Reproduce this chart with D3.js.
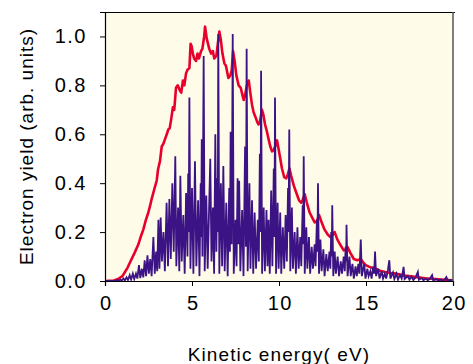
<!DOCTYPE html>
<html>
<head>
<meta charset="utf-8">
<script src="https://cdn.jsdelivr.net/npm/d3@7"></script>
<style>
  html, body { margin: 0; padding: 0; background: #ffffff; }
  svg { display: block; }
  text { font-family: Arial, "Liberation Sans", sans-serif; fill: #000; }
</style>
</head>
<body>
<div id="chart"></div>
<script>
// axis ticks
const xTicks = [0, 5, 10, 15, 20];
const yTicks = [0.0, 0.2, 0.4, 0.6, 0.8, 1.0];

// smoothed yield (red), [energy eV, yield]
const envelope = [
  [0, 0], [0.5, 0.002], [0.75, 0.008], [1.0, 0.02], [1.15, 0.037], [1.3, 0.055],
  [1.53, 0.09], [1.7, 0.115], [1.92, 0.15], [2.05, 0.18], [2.2, 0.21], [2.35, 0.25],
  [2.49, 0.28], [2.6, 0.31], [2.68, 0.335], [2.85, 0.38], [2.97, 0.41], [3.05, 0.457],
  [3.16, 0.49], [3.26, 0.55], [3.35, 0.56], [3.45, 0.58], [3.55, 0.6], [3.64, 0.62],
  [3.72, 0.625], [3.8, 0.66], [3.9, 0.71], [3.98, 0.70], [4.08, 0.79], [4.18, 0.80],
  [4.3, 0.78], [4.38, 0.77], [4.48, 0.82], [4.56, 0.80], [4.66, 0.85], [4.75, 0.865],
  [4.85, 0.87], [4.92, 0.97], [4.98, 0.96], [5.05, 0.93], [5.12, 0.91], [5.23, 0.90],
  [5.32, 0.93], [5.4, 0.91], [5.52, 0.94], [5.6, 0.95], [5.7, 1.0], [5.75, 1.04],
  [5.85, 0.99], [5.99, 0.95], [6.1, 0.93], [6.2, 0.94], [6.28, 0.91], [6.4, 0.92],
  [6.5, 0.98], [6.57, 1.02], [6.65, 0.99], [6.75, 0.93], [6.86, 0.89], [6.95, 0.88],
  [7.09, 0.83], [7.2, 0.84], [7.28, 0.86], [7.36, 0.94], [7.45, 0.9], [7.55, 0.84],
  [7.68, 0.80], [7.8, 0.79], [7.9, 0.76], [7.97, 0.74], [8.05, 0.76], [8.15, 0.8],
  [8.26, 0.82], [8.35, 0.77], [8.45, 0.72], [8.54, 0.69], [8.65, 0.67], [8.75, 0.65],
  [8.83, 0.64], [8.9, 0.65], [9.02, 0.70], [9.1, 0.68], [9.2, 0.64], [9.31, 0.61],
  [9.4, 0.58], [9.5, 0.55], [9.6, 0.53], [9.7, 0.535], [9.8, 0.555], [9.89, 0.575],
  [9.95, 0.55], [10.05, 0.51], [10.17, 0.46], [10.3, 0.425], [10.42, 0.42], [10.5, 0.435],
  [10.6, 0.46], [10.7, 0.43], [10.85, 0.39], [11.0, 0.36], [11.15, 0.33], [11.27, 0.32],
  [11.35, 0.33], [11.48, 0.355], [11.6, 0.32], [11.76, 0.28], [11.9, 0.26], [12.05, 0.24],
  [12.18, 0.245], [12.3, 0.27], [12.45, 0.24], [12.62, 0.21], [12.8, 0.19], [12.95, 0.18],
  [13.05, 0.185], [13.2, 0.20], [13.35, 0.17], [13.55, 0.145], [13.72, 0.125], [13.85, 0.13],
  [13.93, 0.14], [14.1, 0.115], [14.3, 0.09], [14.5, 0.085], [14.7, 0.09], [14.85, 0.075],
  [14.98, 0.065], [15.2, 0.058], [15.4, 0.052], [15.56, 0.05], [15.8, 0.042], [16.1, 0.037],
  [16.4, 0.033], [16.76, 0.03], [17.2, 0.022], [17.8, 0.017], [18.4, 0.011], [18.97, 0.008],
  [19.5, 0.005], [20, 0.003]
];

// resolved spectrum (purple), [energy eV, yield]
const spectrum = [
  [0.0, 0.0], [0.6, 0.0], [0.7, 0.004], [0.78, 0.0], [0.88, 0.006], [0.96, 0.001],
  [1.06, 0.01], [1.14, 0.002], [1.24, 0.015], [1.32, 0.004], [1.42, 0.024], [1.5, 0.006],
  [1.6, 0.03], [1.68, 0.008], [1.78, 0.03], [1.86, 0.01], [1.95, 0.065], [2.03, 0.012],
  [2.12, 0.05], [2.2, 0.015], [2.28, 0.085], [2.36, 0.02], [2.44, 0.105], [2.52, 0.03],
  [2.6, 0.09], [2.68, 0.02], [2.78, 0.18], [2.86, 0.03], [2.94, 0.12], [3.0, 0.04],
  [3.07, 0.25], [3.13, 0.05], [3.2, 0.26], [3.27, 0.08], [3.36, 0.2], [3.44, 0.04],
  [3.54, 0.32], [3.62, 0.06], [3.7, 0.335], [3.78, 0.09], [3.87, 0.40], [3.95, 0.12],
  [4.04, 0.51], [4.1, 0.06], [4.2, 0.3], [4.27, 0.04], [4.33, 0.43], [4.41, 0.08],
  [4.5, 0.27], [4.58, 0.03], [4.66, 0.36], [4.74, 0.1], [4.78, 0.44], [4.81, 0.2],
  [4.85, 0.75], [4.91, 0.05], [5.0, 0.38], [5.08, 0.03], [5.17, 0.49], [5.25, 0.06],
  [5.35, 0.33], [5.43, 0.02], [5.5, 0.4], [5.53, 0.18], [5.56, 0.58], [5.6, 0.1],
  [5.67, 0.92], [5.73, 0.04], [5.82, 0.35], [5.9, 0.05], [6.05, 0.50], [6.12, 0.08],
  [6.2, 0.3], [6.27, 0.03], [6.34, 0.60], [6.4, 0.12], [6.45, 0.42], [6.48, 0.2],
  [6.51, 1.01], [6.57, 0.03], [6.66, 0.4], [6.73, 0.06], [6.8, 0.47], [6.88, 0.04],
  [6.97, 0.32], [7.05, 0.02], [7.14, 0.38], [7.18, 0.12], [7.22, 0.61], [7.28, 0.15],
  [7.34, 1.01], [7.4, 0.03], [7.5, 0.25], [7.56, 0.06], [7.62, 0.42], [7.66, 0.15],
  [7.71, 0.41], [7.78, 0.04], [7.88, 0.29], [7.96, 0.02], [8.05, 0.55], [8.1, 0.14],
  [8.14, 0.95], [8.2, 0.04], [8.3, 0.4], [8.36, 0.05], [8.45, 0.33], [8.52, 0.03],
  [8.6, 0.28], [8.68, 0.05], [8.78, 0.25], [8.84, 0.08], [8.9, 0.52], [8.94, 0.2],
  [8.97, 0.86], [9.03, 0.03], [9.12, 0.3], [9.19, 0.04], [9.28, 0.29], [9.34, 0.06],
  [9.4, 0.25], [9.47, 0.03], [9.55, 0.37], [9.62, 0.06], [9.7, 0.46], [9.74, 0.18],
  [9.77, 0.75], [9.83, 0.03], [9.92, 0.32], [9.98, 0.05], [10.07, 0.28], [10.13, 0.03],
  [10.22, 0.22], [10.3, 0.05], [10.38, 0.27], [10.45, 0.08], [10.52, 0.38], [10.55, 0.2],
  [10.59, 0.62], [10.65, 0.04], [10.74, 0.3], [10.8, 0.05], [10.9, 0.2], [10.97, 0.03],
  [11.06, 0.22], [11.13, 0.05], [11.22, 0.18], [11.28, 0.06], [11.36, 0.31], [11.39, 0.15],
  [11.42, 0.51], [11.48, 0.03], [11.57, 0.22], [11.63, 0.05], [11.72, 0.18], [11.79, 0.03],
  [11.88, 0.14], [11.95, 0.05], [12.05, 0.15], [12.1, 0.06], [12.18, 0.25], [12.21, 0.12],
  [12.24, 0.40], [12.3, 0.03], [12.38, 0.17], [12.45, 0.04], [12.55, 0.13], [12.62, 0.02],
  [12.72, 0.11], [12.8, 0.04], [12.9, 0.12], [12.95, 0.05], [13.0, 0.2], [13.03, 0.1],
  [13.06, 0.31], [13.12, 0.02], [13.2, 0.12], [13.27, 0.03], [13.37, 0.1], [13.45, 0.02],
  [13.55, 0.08], [13.62, 0.03], [13.72, 0.1], [13.78, 0.04], [13.83, 0.14], [13.86, 0.08],
  [13.88, 0.23], [13.94, 0.02], [14.05, 0.1], [14.12, 0.02], [14.22, 0.07], [14.3, 0.01],
  [14.4, 0.06], [14.47, 0.02], [14.56, 0.07], [14.62, 0.03], [14.66, 0.1], [14.7, 0.17],
  [14.76, 0.02], [14.9, 0.07], [14.97, 0.01], [15.08, 0.05], [15.15, 0.02], [15.25, 0.04],
  [15.32, 0.01], [15.42, 0.06], [15.47, 0.03], [15.52, 0.12], [15.58, 0.02], [15.7, 0.05],
  [15.78, 0.01], [15.9, 0.04], [15.98, 0.01], [16.08, 0.03], [16.16, 0.01], [16.26, 0.045],
  [16.34, 0.085], [16.4, 0.01], [16.55, 0.035], [16.63, 0.008], [16.75, 0.03], [16.84, 0.006],
  [16.95, 0.025], [17.05, 0.01], [17.16, 0.058], [17.22, 0.008], [17.4, 0.02], [17.5, 0.005],
  [17.62, 0.018], [17.72, 0.004], [17.85, 0.015], [17.98, 0.037], [18.04, 0.005], [18.2, 0.012],
  [18.3, 0.003], [18.45, 0.01], [18.55, 0.003], [18.68, 0.01], [18.8, 0.024], [18.86, 0.003],
  [19.05, 0.008], [19.15, 0.002], [19.3, 0.006], [19.4, 0.002], [19.5, 0.005], [19.62, 0.016],
  [19.7, 0.002], [19.85, 0.004], [20.0, 0.001]
];

const width = 473, height = 364;
const margin = {top: 12, right: 20, bottom: 83, left: 105};
const w = width - margin.left - margin.right;
const h = height - margin.top - margin.bottom;

const svg = d3.select('#chart').append('svg')
    .attr('width', width)
    .attr('height', height);

const g = svg.append('g')
    .attr('transform', 'translate(' + margin.left + ',' + margin.top + ')');

const x = d3.scaleLinear().domain([0, 20]).range([0, w]);
const y = d3.scaleLinear().domain([0, 1.1]).range([h, 0]);

// plot background
g.append('rect')
    .attr('width', w)
    .attr('height', h)
    .attr('fill', '#fffbe9');

g.append('clipPath').attr('id', 'clip')
  .append('rect').attr('width', w).attr('height', h + 2).attr('y', -1);

const line = d3.line()
    .x(d => x(d[0]))
    .y(d => y(d[1]));

const plot = g.append('g').attr('clip-path', 'url(#clip)');

plot.append('path')
    .datum(envelope)
    .attr('fill', 'none')
    .attr('stroke', '#e8002c')
    .attr('stroke-width', 2.6)
    .attr('stroke-linejoin', 'round')
    .attr('d', line);

plot.append('path')
    .datum(spectrum)
    .attr('fill', 'none')
    .attr('stroke', '#3c1385')
    .attr('stroke-width', 1.8)
    .attr('stroke-linejoin', 'miter')
    .attr('d', line);

// frame: top and right
g.append('line')
    .attr('x1', 0).attr('x2', w + 2)
    .attr('y1', 0.5).attr('y2', 0.5)
    .attr('stroke', '#000');
g.append('line')
    .attr('x1', w).attr('x2', w)
    .attr('y1', 0).attr('y2', h)
    .attr('stroke', '#555')
    .attr('stroke-width', 1.5);

// axes
const xAxis = g.append('g')
    .attr('transform', 'translate(0,' + h + ')')
    .call(d3.axisBottom(x).tickValues(xTicks).tickSize(5).tickPadding(10).tickFormat(d3.format('d')));

const yAxis = g.append('g')
    .call(d3.axisLeft(y).tickValues(yTicks).tickSize(5).tickPadding(13).tickFormat(d3.format('.1f')));

[xAxis, yAxis].forEach(a => {
  a.select('.domain').attr('stroke', '#000').attr('stroke-width', 1.2);
  a.selectAll('.tick line').attr('stroke', '#000');
  a.selectAll('.tick text')
      .style('font-family', 'Arial, "Liberation Sans", sans-serif')
      .style('font-size', '20px')
      .style('letter-spacing', '1.5px')
      .attr('fill', '#000');
});
xAxis.selectAll('.tick text').attr('dx', '0.75px');

// axis titles
svg.append('text')
    .attr('x', margin.left + w / 2)
    .attr('y', 361)
    .attr('text-anchor', 'middle')
    .style('font-size', '19px')
    .style('letter-spacing', '1.1px')
    .text('Kinetic energy( eV)');

svg.append('text')
    .attr('transform', 'translate(33,' + (margin.top + h / 2) + ') rotate(-90)')
    .attr('text-anchor', 'middle')
    .style('font-size', '19px')
    .style('letter-spacing', '1px')
    .text('Electron yield (arb. units)');
</script>
</body>
</html>
